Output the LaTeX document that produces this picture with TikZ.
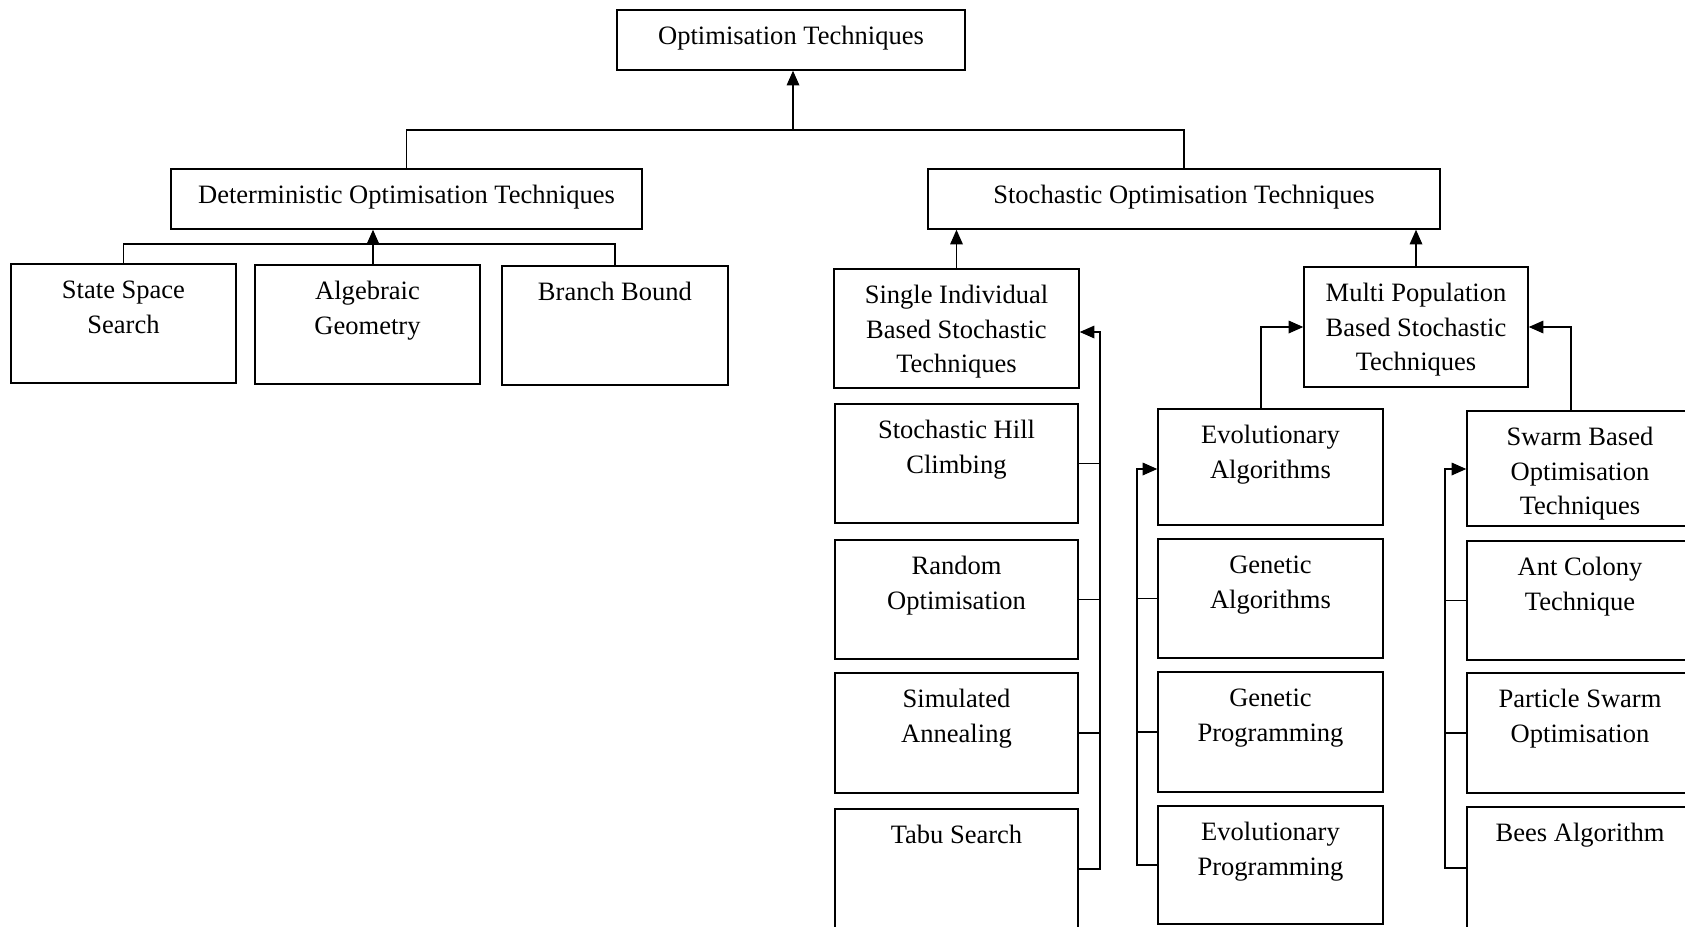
\documentclass[tikz,border=0pt]{standalone}
\usepackage{fontspec}
\setmainfont{Liberation Serif}
\usetikzlibrary{arrows.meta}

\newlength{\pxu}\setlength{\pxu}{0.75pt}
\newcommand{\btext}[3]{\parbox[c][#2\pxu][t]{#1\pxu}{\centering\rule{0pt}{34.5\pxu}#3}}
\tikzset{
  box/.style={draw, line width=1.1pt, inner sep=0pt, font=\fontsize{19.9}{25.9}\selectfont},
  conn/.style={line width=0.9pt},
  arr/.style={conn, -{Triangle[length=11pt,width=9.5pt]}}
}

\begin{document}
\begin{tikzpicture}[x=0.75pt,y=0.75pt,yscale=-1,xscale=1]
\useasboundingbox (0,0) rectangle (1685,926);

%Shape: Rectangle
\node[box] (opt) at (791,40) {\btext{348}{60}{Optimisation Techniques}};
%Shape: Rectangle
\node[box] (det) at (406.5,199) {\btext{471}{60}{Deterministic Optimisation Techniques}};
%Shape: Rectangle
\node[box] (sto) at (1184,199) {\btext{512}{60}{Stochastic Optimisation Techniques}};

%Shape: Rectangle
\node[box] (ssearch) at (123.5,323.5) {\btext{225}{119}{State Space\\Search}};
%Shape: Rectangle
\node[box] (alg) at (367.5,324.5) {\btext{225}{119}{Algebraic\\Geometry}};
%Shape: Rectangle
\node[box] (bnb) at (615,325.5) {\btext{226}{119}{Branch Bound}};

%Shape: Rectangle
\node[box] (single) at (956.5,328.5) {\btext{245}{119}{Single Individual\\Based Stochastic\\Techniques}};
%Shape: Rectangle
\node[box] (multi) at (1416,327) {\btext{224}{120}{Multi Population\\Based Stochastic\\Techniques}};

%Shape: Rectangle
\node[box] (hill) at (956.5,463.5) {\btext{243}{119}{Stochastic Hill\\Climbing}};
%Shape: Rectangle
\node[box] (random) at (956.5,599.5) {\btext{243}{119}{Random\\Optimisation}};
%Shape: Rectangle
\node[box] (anneal) at (956.5,733) {\btext{243}{120}{Simulated\\Annealing}};
%Shape: Rectangle
\node[box] (tabu) at (956.5,869) {\btext{243}{120}{Tabu Search}};

%Shape: Rectangle
\node[box] (evoalg) at (1270.5,467) {\btext{225}{116}{Evolutionary\\Algorithms}};
%Shape: Rectangle
\node[box] (genalg) at (1270.5,598.5) {\btext{225}{119}{Genetic\\Algorithms}};
%Shape: Rectangle
\node[box] (genprog) at (1270.5,732) {\btext{225}{120}{Genetic\\Programming}};
%Shape: Rectangle
\node[box] (evoprog) at (1270.5,865) {\btext{225}{118}{Evolutionary\\Programming}};

%Shape: Rectangle
\node[box] (swarm) at (1580,468.5) {\btext{226}{115}{Swarm Based\\Optimisation\\Techniques}};
%Shape: Rectangle
\node[box] (ant) at (1580,600.5) {\btext{226}{119}{Ant Colony\\Technique}};
%Shape: Rectangle
\node[box] (pso) at (1580,733) {\btext{226}{120}{Particle Swarm\\Optimisation}};
%Shape: Rectangle
\node[box] (bees) at (1580,868) {\btext{226}{122}{Bees Algorithm}};

%Connectors: top level
\coordinate (topbus) at (793,130);
\draw[conn] (det.north) |- (topbus) -| (sto.north);
\draw[arr] (topbus) -- (topbus |- opt.south);

%Connectors: deterministic
\coordinate (detbus) at (373,244);
\draw[conn] (ssearch.north) |- (detbus) -| (bnb.north);
\draw[arr] (detbus |- alg.north) -- (detbus |- det.south);

%Connectors: stochastic
\draw[arr] (single.north) -- (single.north |- sto.south);
\draw[arr] (multi.north) -- (multi.north |- sto.south);

%Connectors: single individual
\coordinate (sibus) at (1100,332);
\draw[conn] (hill.east) -- (hill.east -| sibus);
\draw[conn] (random.east) -- (random.east -| sibus);
\draw[conn] (anneal.east) -- (anneal.east -| sibus);
\draw[arr] (tabu.east) -| (sibus) -- (sibus -| single.east);

%Connectors: evolutionary
\coordinate (evbus) at (1137,469);
\coordinate (evup) at (1261,0);
\draw[conn] (genalg.west) -- (genalg.west -| evbus);
\draw[conn] (genprog.west) -- (genprog.west -| evbus);
\draw[arr] (evoprog.west) -| (evbus) -- (evbus -| evoalg.west);
\draw[arr] (evup |- evoalg.north) |- (multi.west);

%Connectors: swarm
\coordinate (swbus) at (1445,469);
\coordinate (swup) at (1571,0);
\draw[conn] (ant.west) -- (ant.west -| swbus);
\draw[conn] (pso.west) -- (pso.west -| swbus);
\draw[arr] (bees.west) -| (swbus) -- (swbus -| swarm.west);
\draw[arr] (swup |- swarm.north) |- (multi.east);

\end{tikzpicture}
\end{document}
